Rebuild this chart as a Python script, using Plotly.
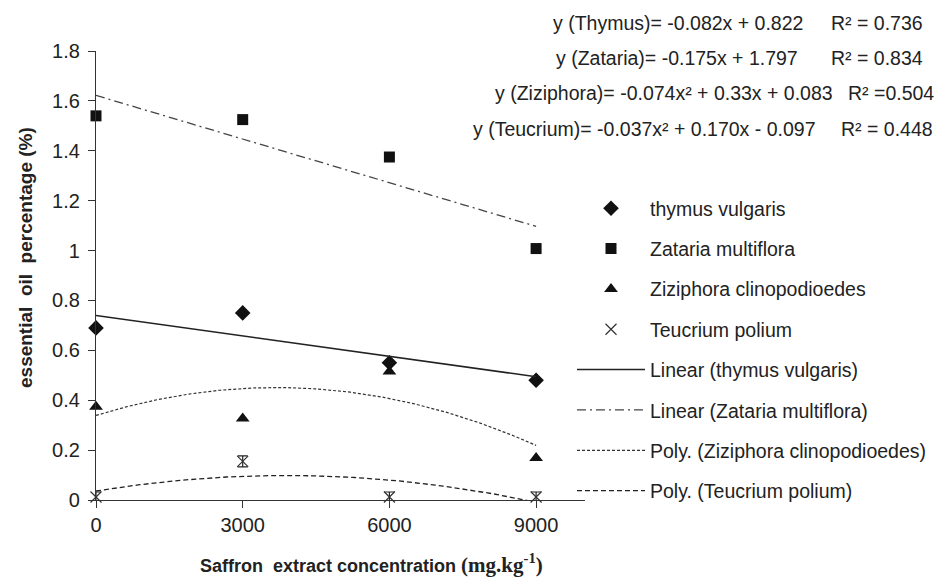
import numpy as np
import plotly.graph_objects as go

# ---- data ----
conc = [0, 3000, 6000, 9000]
thymus = [0.69, 0.75, 0.55, 0.48]
zataria = [1.54, 1.525, 1.375, 1.008]
ziziphora = [0.374, 0.327, 0.515, 0.168]
teucrium = [0.012, 0.155, 0.012, 0.012]
teucrium_err = [0.02, 0.022, 0.02, 0.02]

# trendline coefficients as printed on the chart (x = level index 1..4)
thymus_lin = [-0.082, 0.822]
zataria_lin = [-0.175, 1.797]
ziziphora_poly = [-0.074, 0.33, 0.083]
teucrium_poly = [-0.037, 0.170, -0.097]

names = ["thymus vulgaris", "Zataria multiflora", "Ziziphora clinopodioedes", "Teucrium polium"]
x_ticks = [0, 3000, 6000, 9000]
y_ticks = [0, 0.2, 0.4, 0.6, 0.8, 1, 1.2, 1.4, 1.6, 1.8]
y_tick_text = ["0", "0.2", "0.4", "0.6", "0.8", "1", "1.2", "1.4", "1.6", "1.8"]

eq_lines = [
    ("y (Thymus)= -0.082x + 0.822", "R² = 0.736"),
    ("y (Zataria)= -0.175x + 1.797", "R² = 0.834"),
    ("y (Ziziphora)= -0.074x² + 0.33x + 0.083", "R² =0.504"),
    ("y (Teucrium)= -0.037x² + 0.170x - 0.097", "R² = 0.448"),
]

# ---- layout geometry (pixels) ----
W, H = 941, 579
L, R, T, B = 96, 356, 51, 79
PW, PH = W - L - R, H - T - B


def px(x):
    return (x - L) / PW


def py(y):
    return (H - B - y) / PH


FONT = "Arial, Liberation Sans, sans-serif"
INK = "#111111"

xs = np.linspace(0, 9000, 200)
k = xs / 3000 + 1

fig = go.Figure()
fig.add_trace(go.Scatter(x=conc, y=thymus, mode="markers", name=names[0], legendgroup="a", cliponaxis=False,
                         marker=dict(symbol="diamond", size=12, color=INK)))
fig.add_trace(go.Scatter(x=conc, y=zataria, mode="markers", name=names[1], legendgroup="b", cliponaxis=False,
                         marker=dict(symbol="square", size=11, color=INK)))
fig.add_trace(go.Scatter(x=conc, y=ziziphora, mode="markers", name=names[2], legendgroup="c", cliponaxis=False,
                         marker=dict(symbol="triangle-up", size=12, color=INK)))
fig.add_trace(go.Scatter(x=conc, y=teucrium, mode="markers", name=names[3], legendgroup="d", cliponaxis=False,
                         marker=dict(symbol="x-thin-open", size=11, color="#333", line=dict(color="#333", width=1.2)),
                         error_y=dict(type="data", array=teucrium_err, color="#222", thickness=1.2, width=5)))
fig.add_trace(go.Scatter(x=xs, y=np.polyval(thymus_lin, k), mode="lines", name="Linear (thymus vulgaris)",
                         legendgroup="e", line=dict(color="#222", width=1.5)))
fig.add_trace(go.Scatter(x=xs, y=np.polyval(zataria_lin, k), mode="lines", name="Linear (Zataria multiflora)",
                         legendgroup="f", line=dict(color="#444", width=1.3, dash="9px,4px,2px,4px")))
fig.add_trace(go.Scatter(x=xs, y=np.polyval(ziziphora_poly, k), mode="lines", name="Poly. (Ziziphora clinopodioedes)",
                         legendgroup="g", line=dict(color="#333", width=1.2, dash="3px,2px")))
fig.add_trace(go.Scatter(x=xs, y=np.polyval(teucrium_poly, k), mode="lines", name="Poly. (Teucrium polium)",
                         legendgroup="h", line=dict(color="#222", width=1.3, dash="5px,3px")))

annotations = []
ypos = [23, 58, 93, 129]
eq_end = [805, 800, 835, 818]
r2_end = [925, 925, 936, 935]
for (eq, r2), yy, e1, e2 in zip(eq_lines, ypos, eq_end, r2_end):
    annotations.append(dict(x=px(e1), y=py(yy), xref="paper", yref="paper", text=eq, showarrow=False,
                            xanchor="right", yanchor="middle", font=dict(size=19.5, color="#222", family=FONT)))
    annotations.append(dict(x=px(e2), y=py(yy), xref="paper", yref="paper", text=r2, showarrow=False,
                            xanchor="right", yanchor="middle", font=dict(size=19.5, color="#222", family=FONT)))

annotations.append(dict(x=px(25), y=py(258), xref="paper", yref="paper",
                        text="<b>essential\u00a0 oil\u00a0 percentage (%)</b>",
                        textangle=-90, showarrow=False, xanchor="center", yanchor="middle",
                        font=dict(size=19, color="#222", family=FONT)))
annotations.append(dict(x=px(371), y=py(563), xref="paper", yref="paper",
                        text="<b>Saffron\u00a0 extract concentration "
                             "<span style='font-family:Liberation Serif, serif;font-size:21px'>(mg.kg<sup>-1</sup>)</span></b>",
                        showarrow=False, xanchor="center", yanchor="middle",
                        font=dict(size=18, color="#222", family=FONT)))

fig.update_layout(
    width=W, height=H,
    margin=dict(l=L, r=R, t=T, b=B, autoexpand=False),
    paper_bgcolor="white", plot_bgcolor="white",
    font=dict(family=FONT, size=20, color="#222"),
    showlegend=True,
    legend=dict(x=px(572), y=py(189), xanchor="left", yanchor="top", tracegroupgap=12,
                font=dict(size=19.5, color="#222", family=FONT), itemwidth=68, bgcolor="rgba(0,0,0,0)"),
    annotations=annotations,
    xaxis=dict(range=[0, 10000], tickvals=x_ticks, ticks="outside", ticklen=7, tickcolor="#333",
               showline=True, linecolor="#333", linewidth=1.2, showgrid=False, zeroline=False,
               tickfont=dict(size=20, color="#222", family=FONT)),
    yaxis=dict(range=[0, 1.8], tickvals=y_ticks, ticktext=y_tick_text, ticks="outside", ticklen=7,
               tickcolor="#333", showline=True, linecolor="#333", linewidth=1.2, showgrid=False,
               zeroline=False, ticklabelstandoff=4, tickfont=dict(size=20, color="#222", family=FONT)),
)

fig.write_html("out.html")
